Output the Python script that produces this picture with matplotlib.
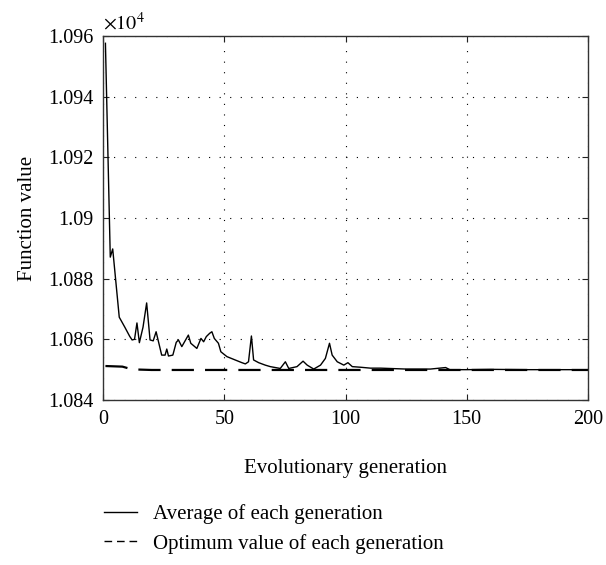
import matplotlib
matplotlib.use("Agg")
import matplotlib.pyplot as plt
from matplotlib.lines import Line2D

plt.rcParams['font.family'] = ['Liberation Serif', 'DejaVu Serif']
plt.rcParams['mathtext.fontset'] = 'stix'

# Average of each generation (values in units of 1e4)
avg_gen = [1, 3, 4, 6.7, 9, 11, 12, 13, 14, 15, 16.5, 18, 19.4, 20.7, 21.9, 24.2, 25.6,
           26.3, 27, 28.8, 30.2, 31.1, 32.5, 35.2, 36.2, 38.7, 40.4, 41.5, 42.6, 44,
           44.9, 45.9, 47.6, 48.6, 51.1, 54.5, 57.3, 58.7, 60, 61.2, 62.1, 64.2, 66.9,
           69, 73.1, 75.2, 76.6, 80, 82.5, 84.2, 86.9, 89.7, 91.7, 93.4, 94.5, 96.6,
           99.3, 101, 102.8, 106.2, 110.3, 114.5, 125, 135, 141.3, 143, 150, 160,
           175, 190, 200]
avg_val = [1.09576, 1.08871, 1.08898, 1.08673, 1.08640, 1.08610, 1.08598, 1.08600,
           1.08654, 1.08589, 1.08640, 1.08720, 1.08598, 1.08595, 1.08625, 1.08548,
           1.08548, 1.08568, 1.08545, 1.08548, 1.08590, 1.08598, 1.08576, 1.08614,
           1.08587, 1.08570, 1.08603, 1.08592, 1.08609, 1.08620, 1.08625, 1.08603,
           1.08587, 1.08559, 1.08543, 1.08532, 1.08523, 1.08519, 1.08526, 1.08611,
           1.08532, 1.08523, 1.08515, 1.08510, 1.08504, 1.08526, 1.08504, 1.08510,
           1.08528, 1.08515, 1.08502, 1.08515, 1.08537, 1.08587, 1.08548, 1.08526,
           1.08515, 1.08523, 1.08510, 1.08508, 1.08505, 1.08505, 1.08502, 1.08502,
           1.08507, 1.08500, 1.08500, 1.08501, 1.08500, 1.08500, 1.08500]

# Optimum value of each generation
opt_gen = [1, 8, 12, 20, 200]
opt_val = [1.08512, 1.08510, 1.08501, 1.08499, 1.08499]

xticks = [0, 50, 100, 150, 200]
yticks = [1.084, 1.086, 1.088, 1.090, 1.092, 1.094, 1.096]
ytick_labels = ['1.084', '1.086', '1.088', '1.09', '1.092', '1.094', '1.096']

W, H = 606, 565
fig = plt.figure(figsize=(W / 100, H / 100), dpi=100)
ax = fig.add_axes([103 / W, 1 - 400 / H, 485 / W, 364 / H])

ax.plot(avg_gen, avg_val, color='black', lw=1.0, label='Average of each generation')
ax.plot(opt_gen, opt_val, color='black', lw=1.6, linestyle=(0, (10, 5)),
        label='Optimum value of each generation')

ax.set_xlim(0, 200)
ax.set_ylim(1.084, 1.096)
ax.set_xticks(xticks)
ax.set_yticks(yticks)
ax.set_yticklabels(ytick_labels)
ax.grid(True, color='black', linestyle=(0, (1, 8.5)), lw=0.8)
ax.tick_params(direction='in', length=4, width=0.8, top=True, right=True,
               labelsize=14.5, pad=7, color='#222222')
for s in ax.spines.values():
    s.set_linewidth(1.0)
    s.set_color('#333333')

ax.set_xlabel('Evolutionary generation', fontsize=15, labelpad=22)
ax.set_ylabel('Function value', fontsize=15, labelpad=8)
ax.text(0.0, 1.005, r'$\times10^{4}$', transform=ax.transAxes, fontsize=14.5,
        ha='left', va='bottom')

handles = [Line2D([], [], color='black', lw=1.0),
           Line2D([], [], color='black', lw=1.0, linestyle=(0, (5.5, 3.5)))]
labels = ['Average of each generation', 'Optimum value of each generation']
fig.legend(handles, labels, loc='upper left', bbox_to_anchor=(89 / W, 1 - 490 / H),
           frameon=False, fontsize=15, handlelength=1.6, handletextpad=0.75,
           labelspacing=0.45, borderpad=0.2)

fig.savefig('out.png', dpi=100)
